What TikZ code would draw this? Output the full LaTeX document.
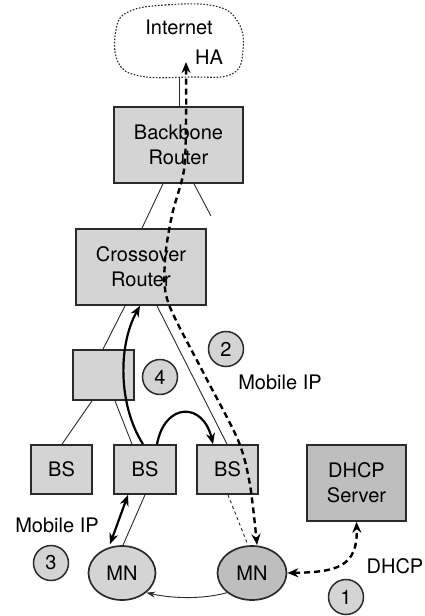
\documentclass[tikz,border=0pt]{standalone}
\usepackage{fontspec}
\setmainfont{TeX Gyre Heros}
\usetikzlibrary{arrows.meta,calc,shapes.geometric}
\definecolor{boxfill}{HTML}{D4D4D4}
\definecolor{darkfill}{HTML}{BEBEBE}
\definecolor{edge}{HTML}{2A2A2A}
\tikzset{
  netbox/.style={draw=edge, line width=1.7pt, fill=boxfill, minimum width=#1, inner sep=0pt, align=center, font=\fontsize{20}{25}\selectfont},
  mnode/.style={ellipse, draw=edge, line width=1.7pt, fill=boxfill, minimum width=67pt, minimum height=54pt, inner sep=0pt, font=\fontsize{20}{25}\selectfont},
  stepnum/.style={circle, draw=edge, line width=1.5pt, fill=boxfill, minimum size=35pt, inner sep=0pt, font=\fontsize{20}{25}\selectfont},
  lbl/.style={font=\fontsize{20}{25}\selectfont, inner sep=0pt},
  thin/.style={draw=edge, line width=0.9pt},
  thickarrow/.style={draw=black, line width=2.2pt, -{Stealth[length=11pt,width=9pt]}},
  dasharrow/.style={draw=black, line width=2.4pt, dash pattern=on 6pt off 4pt, {Stealth[length=11pt,width=9pt]}-{Stealth[length=11pt,width=9pt]}},
}
\begin{document}
\begin{tikzpicture}[x=1pt,y=-1pt]
\useasboundingbox (0,0) rectangle (425,616);
% cloud
\draw[dash pattern=on 1.6pt off 1.6pt, line width=1.1pt, draw=edge] plot[smooth cycle, tension=0.7] coordinates {(128,12) (165,5) (215,6) (238,22) (243,50) (232,74) (190,77) (140,76) (118,62) (116,30)};
\node[lbl] (inet) at (179,27) {Internet};
\node[lbl] (ha) at (209,57) {HA};
\coordinate (cloudb) at (179,77);
% boxes
\node[netbox=129pt, minimum height=76pt] (bb) at (178.5,145) {Backbone\\Router};
\node[netbox=130pt, minimum height=76pt] (cr) at (141,267) {Crossover\\Router};
\node[netbox=61pt, minimum height=50pt] (sb) at (103.5,375) {};
\node[netbox=61pt, minimum height=49pt] (bs1) at (61.5,469.5) {BS};
\node[netbox=62pt, minimum height=49pt] (bs2) at (145,469.5) {BS};
\node[netbox=61pt, minimum height=49pt] (bs3) at (227.5,469.5) {BS};
\node[netbox=99pt, minimum height=76pt, fill=darkfill] (dhcp) at (356.5,483) {DHCP\\Server};
\node[mnode] (mn1) at (122,573) {MN};
\node[mnode, fill=darkfill, minimum width=69pt] (mn2) at (252,573) {MN};
% step circles and labels
\node[stepnum] (s2) at (226,349) {2};
\node[stepnum] (s4) at (160,377) {4};
\node[stepnum] (s3) at (51,563) {3};
\node[stepnum] (s1) at (346,597) {1};
\node[lbl] (mip1) at (280,382) {Mobile IP};
\node[lbl] (mip2) at (57,525) {Mobile IP};
\node[lbl] (dh) at (395,566) {DHCP};
% thin links
\draw[thin] (cloudb) -- (bb.north -| cloudb);
\draw[thin] ([xshift=-15.5pt]bb.south) -- ([xshift=1pt]cr.north);
\coordinate (stub) at (211,216);
\draw[thin] ([xshift=15.5pt]bb.south) -- (stub);
\draw[thin] ([xshift=-16pt]cr.south) -- ([xshift=-0.5pt]sb.north);
\draw[thin] ([xshift=16pt]cr.south) -- ([xshift=-0.5pt]bs3.north);
\draw[thin] ([xshift=-11.5pt]sb.south) -- ([xshift=0.5pt]bs1.north);
\draw[thin] ([xshift=11.5pt]sb.south) -- ([xshift=-13pt]bs2.north);
\draw[thin] ([xshift=0pt]bs2.south) -- ([xshift=1pt]mn1.north);
\draw[thin, dashed] ([xshift=0.5pt]bs3.south) -- ([xshift=-4pt]mn2.north);
% arrows
\draw[thickarrow] ([xshift=-2pt]bs2.north) .. controls (118,405) and (118,345) .. ([xshift=-1pt]cr.south);
\draw[thickarrow] ([xshift=12pt]bs2.north) .. controls (165,402) and (203,402) .. ([xshift=-14.5pt]bs3.north);
\draw[line width=2.2pt, {Stealth[length=11pt,width=9pt]}-{Stealth[length=11pt,width=9pt]}] ([xshift=-17pt]bs2.south) -- ([xshift=-12pt,yshift=1pt]mn1.north);
\draw[thin, -{Stealth[length=9pt,width=6pt]}] (mn2.south west) .. controls (200,600) and (170,598) .. (mn1.south east);
\draw[dasharrow] (mn2.east) .. controls (335,572) and (358,568) .. (dhcp.south);
\draw[dasharrow] plot[smooth, tension=0.5] coordinates {(186,62) (186,120) (184,170) (172,215) (165,260) (168,302) (203,372) (238,440) (250,485) (257,545)};
\end{tikzpicture}
\end{document}
